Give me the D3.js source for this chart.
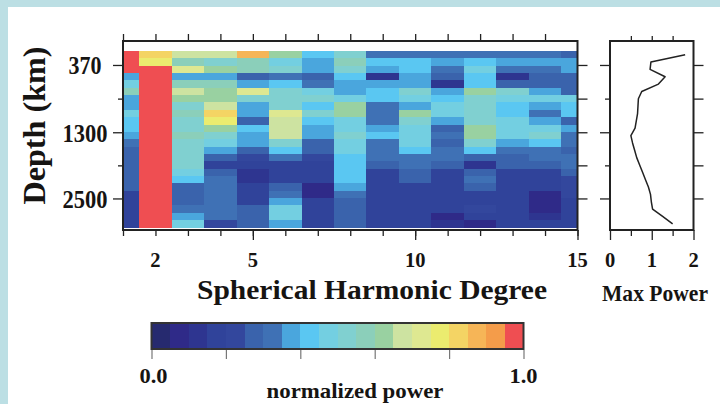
<!DOCTYPE html>
<html><head><meta charset="utf-8">
<script src="https://cdn.jsdelivr.net/npm/d3@7"></script>
<style>html,body{margin:0;padding:0;background:#bcdfe4;}svg{display:block}</style>
</head><body><svg id="c" width="720" height="404"></svg>
<script>
// ---------- data ----------
const degrees = [1,2,3,4,5,6,7,8,9,10,11,12,13,14,15];
const layers = [0,1,2,3,4,5,6,7,8,9,10,11,12,13,14,15,16,17,18,19,20,21,22,23];
// normalized power, one array per degree, top layer first
const normPower = [
 [.98,.98,.98,.38,.48,.58,.38,.38,.48,.43,.43,.38,.33,.28,.28,.28,.28,.28,.28,.18,.18,.18,.18,.18],
 [.83,.78,.98,.98,.98,.98,.98,.98,.98,.98,.98,.98,.98,.98,.98,.98,.98,.98,.98,.98,.98,.98,.98,.98],
 [.68,.58,.73,.38,.58,.68,.63,.53,.58,.53,.53,.58,.53,.53,.53,.53,.48,.43,.28,.28,.28,.33,.38,.48],
 [.68,.53,.63,.38,.58,.63,.63,.68,.83,.78,.63,.53,.48,.38,.28,.18,.28,.33,.33,.33,.33,.33,.33,.23],
 [.88,.58,.58,.28,.38,.73,.53,.38,.38,.28,.43,.38,.38,.28,.23,.18,.13,.13,.18,.18,.18,.28,.28,.28],
 [.63,.48,.53,.33,.43,.53,.53,.53,.73,.68,.68,.68,.53,.43,.33,.18,.18,.18,.28,.33,.38,.48,.48,.38],
 [.43,.38,.38,.28,.33,.48,.53,.43,.53,.43,.38,.38,.28,.28,.23,.18,.18,.18,.08,.08,.18,.18,.18,.18],
 [.53,.58,.53,.43,.38,.38,.48,.63,.63,.48,.48,.53,.48,.48,.43,.43,.43,.43,.38,.33,.28,.28,.28,.28],
 [.33,.43,.38,.13,.38,.43,.43,.33,.33,.33,.38,.43,.33,.33,.33,.28,.18,.18,.18,.18,.18,.18,.18,.18],
 [.33,.43,.43,.38,.38,.53,.48,.38,.63,.53,.48,.48,.48,.43,.33,.33,.28,.28,.18,.18,.18,.18,.18,.18],
 [.33,.38,.33,.28,.13,.38,.43,.48,.48,.38,.28,.33,.28,.33,.33,.28,.18,.18,.18,.18,.18,.18,.08,.13],
 [.33,.43,.48,.43,.43,.63,.53,.53,.53,.53,.63,.63,.53,.43,.28,.13,.28,.33,.28,.18,.18,.23,.18,.08],
 [.33,.38,.33,.13,.28,.53,.48,.43,.43,.48,.48,.48,.38,.33,.28,.28,.18,.18,.18,.18,.18,.18,.18,.18],
 [.33,.38,.33,.28,.28,.38,.48,.38,.33,.38,.48,.53,.43,.33,.33,.28,.18,.18,.18,.08,.08,.08,.13,.18],
 [.28,.38,.38,.28,.28,.28,.48,.43,.43,.28,.38,.33,.33,.28,.33,.33,.28,.23,.23,.23,.18,.18,.18,.18]
];
const maxPower = [1.80,0.98,0.96,1.32,1.16,0.76,0.68,0.67,0.66,0.63,0.60,0.50,0.54,0.59,0.64,0.71,0.78,0.85,0.92,0.97,0.99,1.02,1.26,1.50];
const colorbarColors = ["#262a6f","#2f2a88","#2e3590","#30439a","#33479d","#3a63ac","#3f71b5","#4aa6dd","#5ac7f2","#73cfe1",
  "#80d0d0","#8bcfba","#99d1a1","#cde3a1","#dee891","#ebec6f","#f4d464","#f6b557","#f49c4a","#ef4e52"];
const degreeLabelTicks = [2,5,10,15];
const degreeMajorTicks = [5,10,15];
const depthMajorTicks = [370,1300,2500];
const depthMinorTicks = [835,1900];
const powerLabelTicks = [0,1,2];
const powerMinorTicks = [0.5,1.5];
const colorbarTicks = [0,0.2,0.4,0.6,0.8,1.0];
const colorbarLabels = [0,1];

// ---------- drawing ----------
const svg = d3.select("#c");
const FONT = "'Liberation Serif','Times New Roman',serif";
const INK = "#161412";
svg.append("rect").attr("width",720).attr("height",404).attr("fill","#bcdfe4");
svg.append("rect").attr("x",8).attr("y",7).attr("width",712).attr("height",397).attr("fill","#fff");

const x = d3.scaleLinear().domain([1,15]).range([123,577.5]);
const rowY = d3.scaleLinear().domain([0,24]).range([51,227.5]);
const depthY = d3.scaleLinear().domain([370,1300,2500]).range([rowY(1.9),rowY(11.05),rowY(20.05)]);
const color = d3.scaleQuantize().domain([0,1]).range(colorbarColors);
const frameTop = 41, frameBot = 230;

// heatmap cells
const cells = degrees.flatMap((d,j)=>layers.map(i=>({d,i,v:normPower[j][i]})));
svg.append("g").selectAll("rect").data(cells).join("rect")
  .attr("x",c=>x(Math.max(1,c.d-0.5)))
  .attr("width",c=>x(Math.min(15,c.d+0.5))-x(Math.max(1,c.d-0.5))+0.3)
  .attr("y",c=>rowY(c.i))
  .attr("height",c=>rowY(c.i+1)-rowY(c.i)+0.3)
  .attr("fill",c=>color(c.v))
  .attr("shape-rendering","crispEdges");

function tickGroup(tx,ty,axis){
  const g = svg.append("g").attr("transform",`translate(${tx},${ty})`).call(axis);
  g.select(".domain").remove();
  g.selectAll("text").remove();
  g.selectAll("line").attr("stroke","#222").attr("stroke-width",1.3);
  return g;
}
// main frame ticks
tickGroup(0,frameBot,d3.axisBottom(x).tickValues(degrees).tickSize(6));
tickGroup(0,frameBot,d3.axisBottom(x).tickValues(degreeMajorTicks).tickSize(10));
tickGroup(0,frameTop,d3.axisTop(x).tickValues(degrees.slice(0,14)).tickSize(7));
tickGroup(123,0,d3.axisLeft(depthY).tickValues(depthMajorTicks).tickSize(10));
tickGroup(123,0,d3.axisLeft(depthY).tickValues(depthMinorTicks).tickSize(5));
tickGroup(577.5,0,d3.axisRight(depthY).tickValues(depthMajorTicks.concat(depthMinorTicks)).tickSize(10));

svg.append("rect").attr("x",123).attr("y",frameTop).attr("width",454.5).attr("height",frameBot-frameTop)
  .attr("fill","none").attr("stroke","#222").attr("stroke-width",2);

// labels main
svg.append("g").selectAll("text").data(degreeLabelTicks).join("text")
  .attr("x",d=>x(d)).attr("y",267).attr("text-anchor","middle")
  .attr("font-family",FONT).attr("font-weight","bold").attr("font-size",20.5).attr("fill",INK).text(d=>d);
svg.append("g").selectAll("text").data(depthMajorTicks).join("text")
  .attr("x",85).attr("y",d=>depthY(d)+9.5).attr("text-anchor","middle")
  .attr("font-family",FONT).attr("font-weight","bold").attr("font-size",25).attr("fill",INK)
  .attr("textLength",d=>String(d).length===3?33:45).attr("lengthAdjust","spacingAndGlyphs").text(d=>d);
svg.append("text").attr("transform","translate(45,125.5) rotate(-90)").attr("text-anchor","middle")
  .attr("font-family",FONT).attr("font-weight","bold").attr("font-size",31).attr("fill",INK)
  .attr("textLength",158).attr("lengthAdjust","spacingAndGlyphs").text("Depth (km)");
svg.append("text").attr("x",372).attr("y",299).attr("text-anchor","middle")
  .attr("font-family",FONT).attr("font-weight","bold").attr("font-size",28).attr("fill",INK)
  .attr("textLength",350).attr("lengthAdjust","spacingAndGlyphs").text("Spherical Harmonic Degree");

// right panel
const xp = d3.scaleLinear().domain([0,2]).range([610,693.5]);
tickGroup(0,frameBot,d3.axisBottom(xp).tickValues(powerLabelTicks).tickSize(10));
tickGroup(0,frameBot,d3.axisBottom(xp).tickValues(powerMinorTicks).tickSize(6));
tickGroup(0,frameTop,d3.axisTop(xp).tickValues([0.5,1,1.5]).tickSize(5));
tickGroup(610,0,d3.axisLeft(depthY).tickValues(depthMajorTicks).tickSize(10));
tickGroup(610,0,d3.axisLeft(depthY).tickValues(depthMinorTicks).tickSize(5));
tickGroup(693.5,0,d3.axisRight(depthY).tickValues(depthMajorTicks.concat(depthMinorTicks)).tickSize(10));
svg.append("path").datum(maxPower)
  .attr("d",d3.line().x(v=>xp(v)).y((v,i)=>rowY(layers[i]+0.5)))
  .attr("fill","none").attr("stroke","#222").attr("stroke-width",1.5).attr("stroke-linejoin","round");
svg.append("rect").attr("x",610).attr("y",frameTop).attr("width",83.5).attr("height",frameBot-frameTop)
  .attr("fill","none").attr("stroke","#222").attr("stroke-width",2);
svg.append("g").selectAll("text").data(powerLabelTicks).join("text")
  .attr("x",d=>xp(d)).attr("y",267).attr("text-anchor","middle")
  .attr("font-family",FONT).attr("font-weight","bold").attr("font-size",20.5).attr("fill",INK).text(d=>d);
svg.append("text").attr("x",655).attr("y",301).attr("text-anchor","middle")
  .attr("font-family",FONT).attr("font-weight","bold").attr("font-size",23).attr("fill",INK)
  .attr("textLength",106).attr("lengthAdjust","spacingAndGlyphs").text("Max Power");

// colorbar
const cb = d3.scaleLinear().domain([0,1]).range([151.5,523.5]);
const n = colorbarColors.length;
svg.append("g").selectAll("rect").data(colorbarColors).join("rect")
  .attr("x",(c,i)=>cb(i/n)).attr("width",(c,i)=>cb((i+1)/n)-cb(i/n)+0.3)
  .attr("y",323).attr("height",26).attr("fill",c=>c).attr("shape-rendering","crispEdges");
svg.append("rect").attr("x",151.5).attr("y",323).attr("width",372).attr("height",26)
  .attr("fill","none").attr("stroke","#333").attr("stroke-width",2);
const cbt = svg.append("g").attr("transform","translate(0,350)").call(d3.axisBottom(cb).tickValues(colorbarTicks).tickSize(9).tickFormat(""));
cbt.select(".domain").remove();
cbt.selectAll("line").attr("stroke","#777").attr("stroke-width",1.2);
svg.append("g").selectAll("text").data(colorbarLabels).join("text")
  .attr("x",d=>cb(d)+ (d===0?2:0)).attr("y",382.7).attr("text-anchor","middle")
  .attr("font-family",FONT).attr("font-weight","bold").attr("font-size",21.5).attr("fill",INK)
  .attr("textLength",28).attr("lengthAdjust","spacingAndGlyphs").text(d=>d3.format(".1f")(d));
svg.append("text").attr("x",355).attr("y",397.5).attr("text-anchor","middle")
  .attr("font-family",FONT).attr("font-weight","bold").attr("font-size",21.5).attr("fill",INK)
  .attr("textLength",177).attr("lengthAdjust","spacingAndGlyphs").text("normalized power");
</script></body></html>
